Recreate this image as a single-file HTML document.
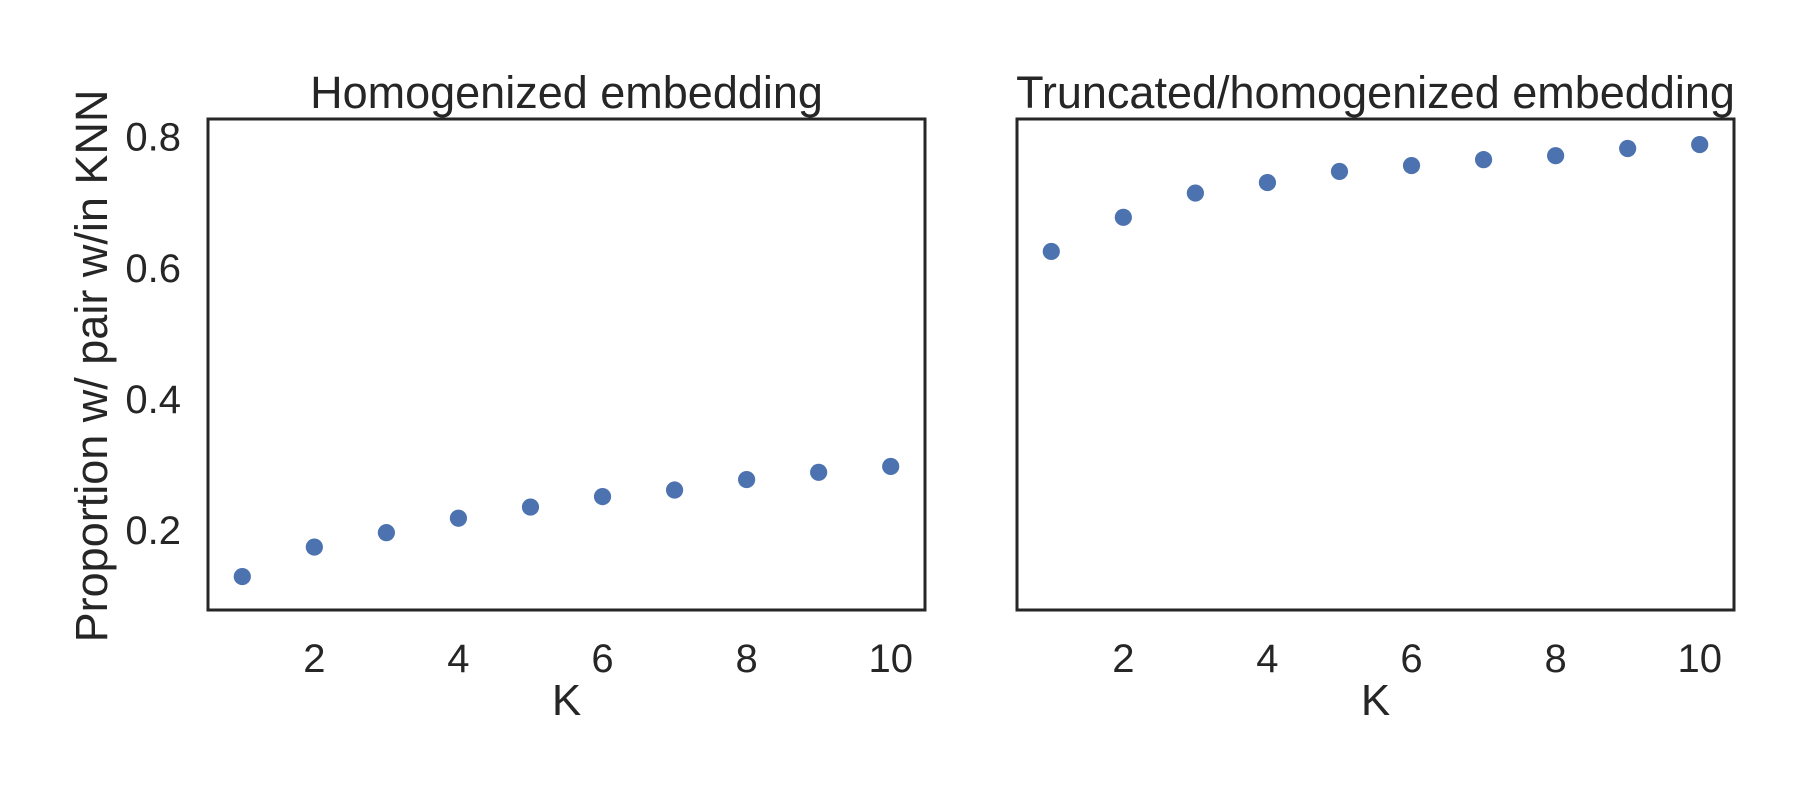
<!DOCTYPE html>
<html><head><meta charset="utf-8"><style>
html,body{margin:0;padding:0;background:#fff;}
svg{display:block;font-family:"Liberation Sans",sans-serif;}
</style></head><body>
<svg id="chart" width="1810" height="799" viewBox="0 0 1810 799" xmlns="http://www.w3.org/2000/svg"></svg>
<script>
const kValues = [1,2,3,4,5,6,7,8,9,10];
const homogenizedValues = [0.129,0.174,0.196,0.218,0.235,0.251,0.261,0.277,0.288,0.297];
const truncatedValues = [0.625,0.677,0.714,0.730,0.747,0.756,0.765,0.771,0.782,0.788];
const xTicks = [2,4,6,8,10];
const yTicks = [0.2,0.4,0.6,0.8];
const panelTitles = ["Homogenized embedding","Truncated/homogenized embedding"];

const NS = "http://www.w3.org/2000/svg";
const svg = document.getElementById('chart');
const xMin = 0.524, xMax = 10.476, yMin = 0.078, yMax = 0.827;
const plotTop = 119, plotBottom = 610, pw = 717;
const panels = [{left:208, data:homogenizedValues, name:'homogenized'},{left:1017, data:truncatedValues, name:'truncated'}];
function mk(tag, attrs, parent){const e=document.createElementNS(NS,tag);for(const k in attrs)e.setAttribute(k,attrs[k]);(parent||svg).appendChild(e);return e;}
panels.forEach((p, pi) => {
  const xs = v => p.left + (v - xMin) / (xMax - xMin) * pw;
  const ys = v => plotBottom - (v - yMin) / (yMax - yMin) * (plotBottom - plotTop);
  const g = mk('g', {});
  
  
  p.data.forEach((v, i) => {
    const c = mk('circle', {cx: xs(kValues[i]), cy: ys(v), r: 8.6, fill: '#4c72b0'}, g);
    
    
  });
  const fr = mk('rect', {x: p.left, y: plotTop, width: pw, height: plotBottom - plotTop, fill: 'none', stroke: '#262626', 'stroke-width': 3}, g);
  
  
  xTicks.forEach(t => {
    const tx = mk('text', {x: xs(t), y: 672, 'text-anchor': 'middle', 'font-size': 40, fill: '#262626'}, g);
    tx.textContent = t;
    
    
  });
  const xl = mk('text', {x: p.left + pw/2, y: 715, 'text-anchor': 'middle', 'font-size': 44, fill: '#262626'}, g);
  xl.textContent = 'K';
  
  
  const ti = mk('text', {x: p.left + pw/2, y: 108, 'text-anchor': 'middle', 'font-size': 45, fill: '#262626'}, g);
  ti.textContent = panelTitles[pi];
  
  
  if (pi === 0) {
    yTicks.forEach(t => {
      const ty = mk('text', {x: 181, y: ys(t) + 14, 'text-anchor': 'end', 'font-size': 40, fill: '#262626'}, g);
      ty.textContent = t.toFixed(1);
      
      
    });
  }
});
const yl = mk('text', {x: 0, y: 0, 'text-anchor': 'middle', 'font-size': 45, fill: '#262626', transform: 'translate(107,366) rotate(-90)'});
yl.textContent = 'Proportion w/ pair w/in KNN';


</script>
</body></html>
